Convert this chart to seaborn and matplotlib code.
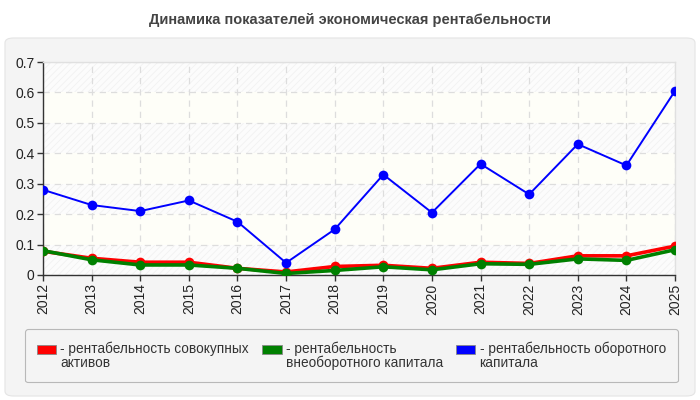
import numpy as np
import pandas as pd
import matplotlib
matplotlib.use("Agg")
import matplotlib.pyplot as plt
import seaborn as sns
from matplotlib.patches import Patch, FancyBboxPatch

# data
years = [2012, 2013, 2014, 2015, 2016, 2017, 2018, 2019, 2020, 2021, 2022, 2023, 2024, 2025]
total_assets = [0.078, 0.055, 0.042, 0.042, 0.022, 0.010, 0.028, 0.032, 0.022, 0.042, 0.038, 0.063, 0.063, 0.095]
noncurrent_capital = [0.080, 0.050, 0.033, 0.033, 0.022, 0.005, 0.015, 0.027, 0.017, 0.037, 0.035, 0.053, 0.048, 0.083]
working_capital = [0.280, 0.230, 0.210, 0.245, 0.175, 0.040, 0.150, 0.330, 0.205, 0.365, 0.265, 0.430, 0.360, 0.605]

series_names = ["рентабельность совокупных активов",
                "рентабельность внеоборотного капитала",
                "рентабельность оборотного капитала"]
legend_labels = ["- рентабельность совокупных\nактивов",
                 "- рентабельность\nвнеоборотного капитала",
                 "- рентабельность оборотного\nкапитала"]
colors = ["#ff0000", "#008000", "#0000ff"]
y_ticks = [0, 0.1, 0.2, 0.3, 0.4, 0.5, 0.6, 0.7]
y_tick_labels = ["0", "0.1", "0.2", "0.3", "0.4", "0.5", "0.6", "0.7"]

df = pd.DataFrame({
    "year": years * 3,
    "value": total_assets + noncurrent_capital + working_capital,
    "series": np.repeat(series_names, len(years)),
})

sns.set_style("white")
plt.rcParams["font.family"] = ["Liberation Sans", "DejaVu Sans"]
plt.rcParams["hatch.color"] = "#ededed"
plt.rcParams["hatch.linewidth"] = 0.5

fig = plt.figure(figsize=(7, 4), dpi=100)
fig.patch.set_facecolor("white")

# outer light panel
panel = FancyBboxPatch((5 / 700, 4 / 400), 690 / 700, 358 / 400,
                       boxstyle="round,pad=0,rounding_size=0.012",
                       transform=fig.transFigure, facecolor="#f4f4f4",
                       edgecolor="#e4e4e4", linewidth=0.8, zorder=-10)
fig.patches.append(panel)

fig.text(0.5, 0.95, "Динамика показателей экономическая рентабельности",
         ha="center", va="center", fontsize=10.5, fontweight="bold", color="#444444")

ax = fig.add_axes([43 / 700, 125 / 400, 632 / 700, 213 / 400])
ax.set_facecolor("#fefef8")

# alternating bands: hatched / plain
for i in range(0, 7, 2):
    ax.axhspan(i / 10, i / 10 + 0.1, facecolor="#fcfcfc", hatch="/////",
               edgecolor="#f0f0f0", linewidth=0, zorder=0)

sub_thick = df[df["series"] != series_names[2]]
sns.lineplot(data=sub_thick, x="year", y="value", hue="series",
             palette=colors[:2], hue_order=series_names[:2], linewidth=2.6,
             marker="o", markersize=7, markeredgewidth=0, legend=False, ax=ax,
             zorder=3)
sns.lineplot(data=df[df["series"] == series_names[2]], x="year", y="value",
             color=colors[2], linewidth=1.4, marker="o", markersize=7,
             markeredgewidth=0, legend=False, ax=ax, zorder=4)

ax.set_xlim(years[0], years[-1])
ax.set_ylim(0, 0.7)
ax.set_xticks(years)
ax.set_xticklabels([str(y) for y in years], rotation=90, fontsize=10, color="#222222")
ax.set_yticks(y_ticks)
ax.set_yticklabels(y_tick_labels, fontsize=10, color="#222222")
ax.set_xlabel("")
ax.set_ylabel("")
ax.grid(True, linestyle=(0, (5, 4)), color="#dddddd", linewidth=0.9)
ax.set_axisbelow(True)
ax.tick_params(axis="both", length=4, width=1, color="#333333", pad=2, left=True, bottom=True)
for side in ["left", "bottom"]:
    ax.spines[side].set_color("#333333")
    ax.spines[side].set_linewidth(1)
for side in ["top", "right"]:
    ax.spines[side].set_color("#e0e0e0")
    ax.spines[side].set_linewidth(1)

handles = [Patch(facecolor=c, edgecolor="#888888", linewidth=0.6) for c in colors]
leg = fig.legend(handles, legend_labels, loc="upper left",
                 bbox_to_anchor=(25 / 700, 1 - 383 / 400, 653 / 700, 54 / 400),
                 mode="expand", ncol=3, fontsize=9.8, frameon=True, fancybox=True,
                 handlelength=1.4, handleheight=0.7, handletextpad=0.3,
                 borderpad=0.9, labelspacing=0.2, alignment="left",
                 borderaxespad=0)
leg.get_frame().set_facecolor("#f4f4f4")
leg.get_frame().set_edgecolor("#aaaaaa")
leg.get_frame().set_linewidth(0.8)
for t in leg.get_texts():
    t.set_color("#333333")
    t.set_linespacing(1.0)
for h in leg.legend_handles:
    h.set_y(h.get_y() + 5)

fig.savefig("out.png", dpi=100, facecolor="white")
